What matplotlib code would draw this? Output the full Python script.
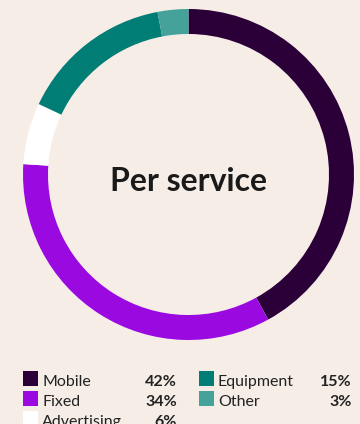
import matplotlib.pyplot as plt
from matplotlib.patches import Rectangle

labels = ['Mobile', 'Fixed', 'Advertising', 'Equipment', 'Other']
shares = [42, 34, 6, 15, 3]
colors = ['#2b0039', '#9a0ae0', '#ffffff', '#007d75', '#45a29b']

bg = '#f6ede7'
W, H = 360, 424

plt.rcParams['font.family'] = ['Lato', 'DejaVu Sans']

fig = plt.figure(figsize=(W / 100, H / 100), dpi=100, facecolor=bg)

# donut: centre in px from top-left, outer radius in px
cx, cy, r = 188.5, 174.5, 165.5
ax = fig.add_axes([(cx - r) / W, (H - cy - r) / H, 2 * r / W, 2 * r / H])
ax.set_facecolor(bg)
ax.pie(shares, colors=colors, startangle=90, counterclock=False, radius=1,
       wedgeprops=dict(width=25 / r, linewidth=0))
ax.set_xlim(-1, 1)
ax.set_ylim(-1, 1)
ax.axis('off')
fig.text(cx / W, 1 - 191 / H, 'Per service', ha='center', va='baseline',
         fontsize=23, fontweight='bold', color='#1a1a1a')

# legend, two columns
cols = [(23, 42, 177), (199, 218, 352)]
rows = [0, 1, 2, 0, 1]
col_of = [0, 0, 0, 1, 1]
for lab, val, c, row, ci in zip(labels, shares, colors, rows, col_of):
    sx, tx, px = cols[ci]
    top = 371 + row * 20
    fig.patches.append(Rectangle((sx / W, 1 - (top + 15) / H), 15 / W, 15 / H,
                                 transform=fig.transFigure, facecolor=c,
                                 edgecolor='none'))
    yb = 1 - (top + 15) / H
    fig.text(tx / W, yb, lab, ha='left', va='baseline', fontsize=11.5,
             color='#222222')
    fig.text(px / W, yb, f'{val}%', ha='right', va='baseline', fontsize=11.5,
             fontweight='bold', color='#222222')

fig.savefig('out.png', dpi=100, facecolor=bg)
